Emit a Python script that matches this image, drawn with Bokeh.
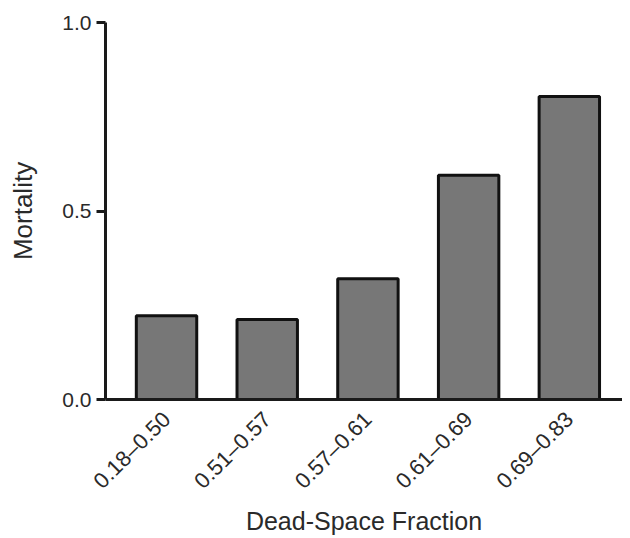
import math
from bokeh.plotting import figure
from bokeh.models import Range1d, FixedTicker, NumeralTickFormatter, ColumnDataSource
from bokeh.embed import file_html
from bokeh.resources import INLINE

categories = ["0.18\u20130.50", "0.51\u20130.57", "0.57\u20130.61", "0.61\u20130.69", "0.69\u20130.83"]
mortality = [0.222, 0.212, 0.32, 0.595, 0.804]
y_ticks = [0.0, 0.5, 1.0]

xs = list(range(len(categories)))
src = ColumnDataSource(dict(x=xs, top=mortality))

p = figure(width=622, height=538, output_backend="svg", toolbar_location=None,
           x_range=Range1d(-0.606, 4.528), y_range=Range1d(0, 1.0),
           min_border_left=105, min_border_right=0, min_border_top=22, min_border_bottom=138)
p.vbar(x="x", top="top", bottom=0, width=0.6, source=src,
       fill_color="#777777", line_color="#111111", line_width=3)

p.outline_line_color = None
p.grid.visible = False

font = "Liberation Sans"
txt = "#2a2a2a"
p.xaxis.ticker = FixedTicker(ticks=xs)
p.xaxis.major_label_overrides = {i: c for i, c in enumerate(categories)}
p.xaxis.major_label_orientation = math.pi / 4
p.xaxis.major_tick_line_color = None
p.xaxis.minor_tick_line_color = None
p.xaxis.axis_line_width = 3
p.xaxis.axis_line_color = "#1a1a1a"
p.xaxis.axis_label = "Dead-Space Fraction"
p.xaxis.axis_label_text_font = font
p.xaxis.axis_label_text_font_style = "normal"
p.xaxis.axis_label_text_font_size = "25px"
p.xaxis.axis_label_text_color = txt
p.xaxis.axis_label_standoff = 2
p.xaxis.major_label_text_font = font
p.xaxis.major_label_text_font_size = "22px"
p.xaxis.major_label_text_color = txt
p.xaxis.major_label_standoff = 10

p.yaxis.ticker = FixedTicker(ticks=y_ticks)
p.yaxis.formatter = NumeralTickFormatter(format="0.0")
p.yaxis.minor_tick_line_color = None
p.yaxis.major_tick_out = 9
p.yaxis.major_tick_in = 0
p.yaxis.major_tick_line_width = 3
p.yaxis.major_tick_line_color = "#1a1a1a"
p.yaxis.axis_line_width = 3
p.yaxis.axis_line_color = "#1a1a1a"
p.yaxis.axis_label = "Mortality"
p.yaxis.axis_label_text_font = font
p.yaxis.axis_label_text_font_style = "normal"
p.yaxis.axis_label_text_font_size = "26px"
p.yaxis.axis_label_text_color = txt
p.yaxis.axis_label_standoff = 21
p.yaxis.major_label_text_font = font
p.yaxis.major_label_text_font_size = "21px"
p.yaxis.major_label_text_color = txt
p.yaxis.major_label_standoff = 5

open("out.html", "w").write(file_html(p, INLINE))
